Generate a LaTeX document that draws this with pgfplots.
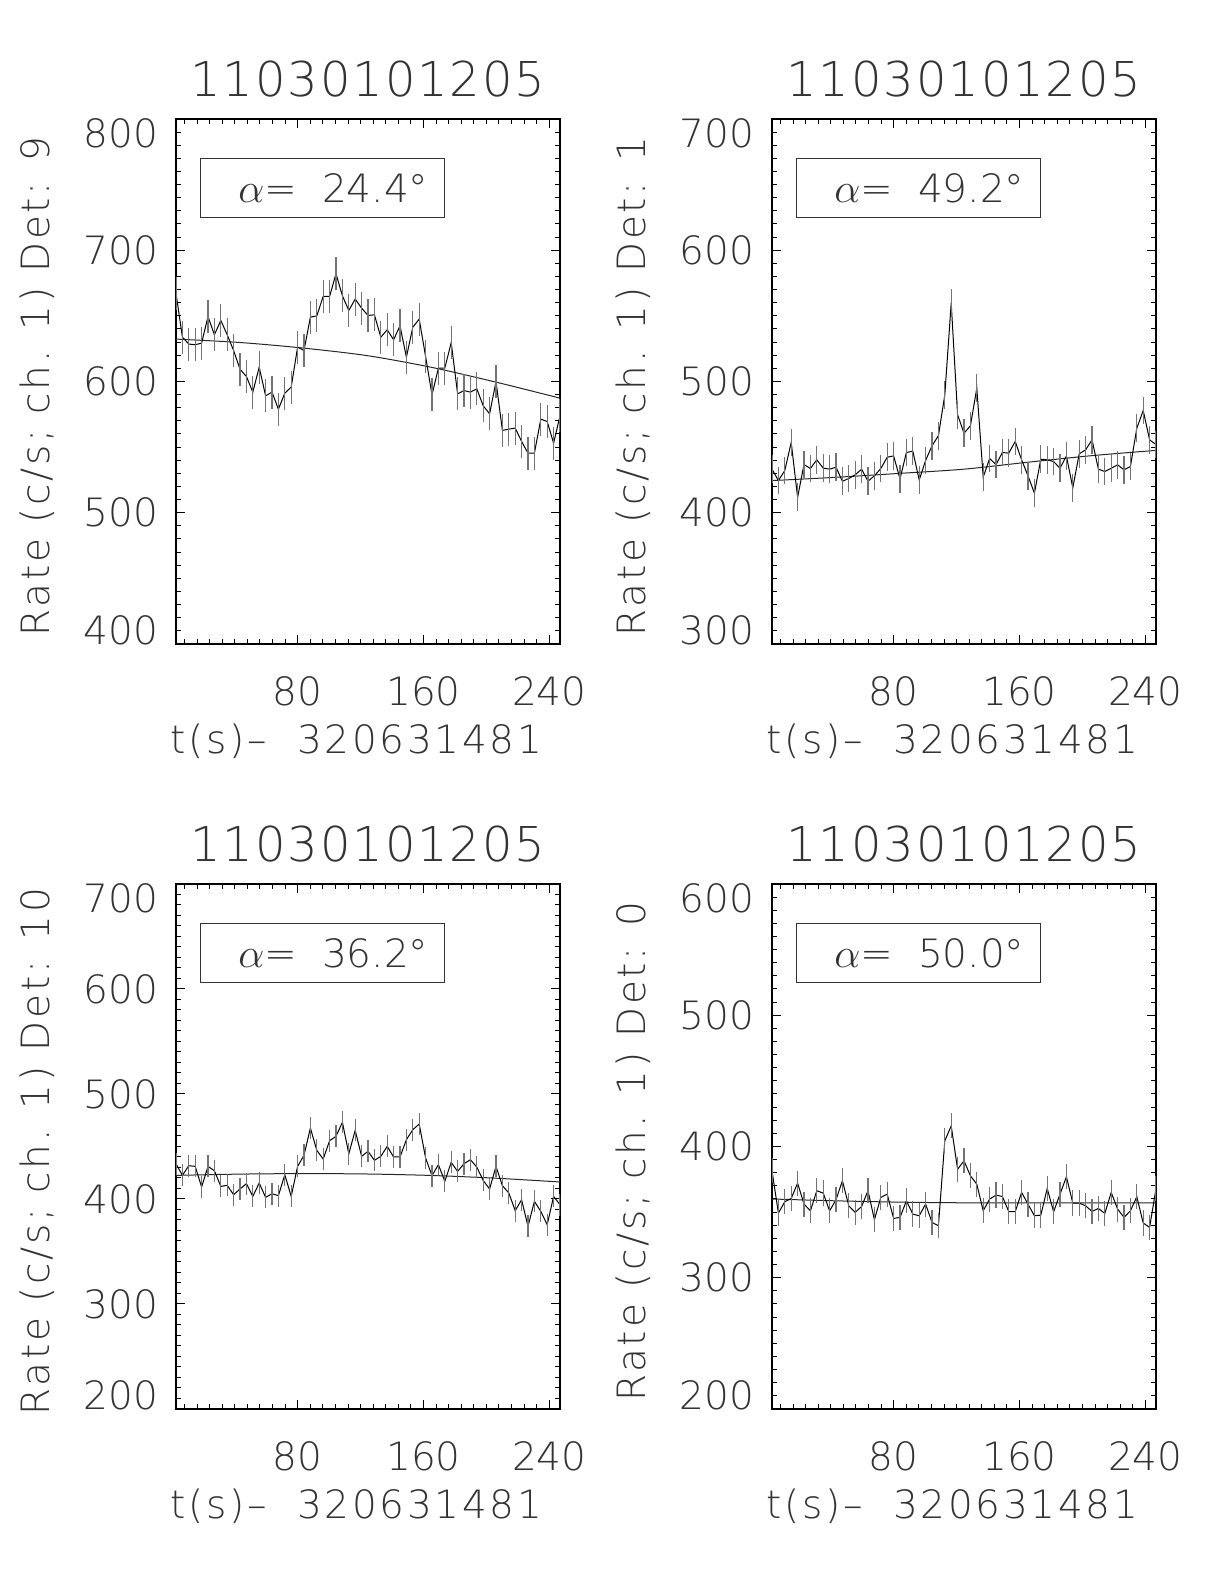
\documentclass[border=0pt]{standalone}
\usepackage{pgfplots}
\usepackage{pgfplotstable}
\pgfplotsset{compat=1.18}
\usepackage{fontspec}
\IfFontExistsTF{DejaVu Sans ExtraLight}{\setmainfont{DejaVu Sans ExtraLight}}{%
  \IfFontExistsTF{Fira Sans Light}{\setmainfont{Fira Sans Light}}{\setmainfont{DejaVu Sans}}}
\newcommand{\lab}{\fontsize{19.5}{24}\selectfont}
\newcommand{\labw}{\fontsize{19.5}{24}\selectfont\addfontfeatures{LetterSpace=7}}
\newcommand{\up}[1]{\raisebox{7pt}[\height][\depth]{#1}}
\newcommand{\dn}[1]{\raisebox{-7pt}[\height][\depth]{#1}}

\pgfplotstableread{
t d9 d1 d10 d0
2.60 667.3 433.2 433.6 381.5
6.67 633.8 424.5 422.5 349.3
10.74 628.5 432.2 431.7 357.9
14.81 628.0 453.5 431.1 360.4
18.88 629.2 411.8 411.4 372.1
22.95 649.5 436.7 431.1 356.1
27.02 635.6 433.7 426.9 351.0
31.09 646.5 440.3 412.0 366.3
35.16 635.6 434.0 413.0 364.5
39.23 623.6 433.2 404.1 351.0
43.30 609.4 434.7 409.5 359.4
47.37 603.8 424.0 414.6 373.9
51.44 591.9 426.1 402.5 354.8
55.51 610.9 428.9 415.2 349.8
59.58 589.1 433.2 401.6 354.3
63.65 591.9 424.0 405.0 366.3
67.72 578.9 428.1 403.2 344.2
71.79 591.1 433.7 423.1 361.2
75.86 595.7 442.3 402.5 363.7
79.93 626.2 443.3 431.1 345.2
84.00 623.6 425.8 441.6 346.0
88.07 649.0 445.9 467.6 358.6
92.14 650.0 446.9 446.3 348.5
96.21 664.8 425.0 438.1 347.2
100.28 664.8 439.8 455.5 356.1
104.35 682.1 451.0 459.7 342.2
108.42 665.3 458.6 473.0 339.6
112.49 654.1 489.8 443.1 404.3
116.56 662.8 559.7 465.4 415.7
120.63 655.9 474.6 440.6 382.7
124.70 650.3 460.6 445.4 389.1
128.77 650.8 466.2 436.8 377.7
132.84 633.8 494.9 440.6 371.3
136.91 639.4 427.1 450.1 351.0
140.98 631.8 441.3 440.0 359.9
145.05 642.4 436.7 440.0 363.0
149.12 618.5 445.9 456.5 361.9
153.19 641.4 445.4 466.0 350.3
157.26 647.5 454.3 471.4 350.3
161.33 619.0 440.3 439.0 365.0
165.40 589.8 428.1 422.2 356.1
169.47 610.2 414.9 432.7 347.2
173.54 610.2 440.8 416.8 347.7
177.61 629.7 440.3 434.9 368.0
181.68 590.6 439.0 426.3 350.3
185.75 593.1 433.9 433.6 363.7
189.82 591.9 443.3 437.4 376.9
193.89 594.4 419.0 430.4 356.9
197.96 581.5 444.9 417.7 356.9
202.03 575.4 447.9 409.5 354.8
206.10 600.0 455.5 431.1 350.5
210.17 562.7 433.2 412.7 352.8
214.24 563.7 431.4 405.7 349.0
218.31 564.5 433.9 388.9 365.0
222.38 554.3 436.5 399.3 352.3
226.45 545.4 432.7 373.9 346.0
230.52 545.4 435.2 397.8 351.0
234.59 571.3 464.4 388.2 361.7
238.66 569.5 477.9 375.5 341.7
242.73 553.0 455.5 402.5 338.4
246.80 573.9 452.0 394.6 368.0
}\rates

\pgfplotstableread{
t b9 b1 b10 b0
2.60 632.3 424.5 422.5 360.0
43.30 629.7 427.0 423.7 358.6
84.00 625.4 430.0 424.2 357.6
124.70 619.6 433.2 423.8 357.1
165.40 610.7 438.5 422.4 357.0
206.10 599.5 443.5 419.8 357.0
246.80 587.3 447.5 416.2 357.0
}\bkg

\pgfplotsset{
  idl/.style={
    scale only axis, width=192pt, height=262.5pt, anchor=south west,
    xmin=2.6, xmax=246.8,
    xtick={80,160,240}, xticklabels={80,160,240},
    minor xtick={8,16,...,240},
    tick align=inside,
    major tick length=4.6pt, minor tick length=2.3pt,
    every tick/.style={black, line width=0.5pt},
    axis line style={black, line width=0.6pt},
    tick label style={font=\lab, text=black!80},
    xticklabel style={anchor=center, inner sep=0pt, yshift=-23.5pt},
    yticklabel style={anchor=east, inner sep=0pt, xshift=-8.75pt},
    title style={at={(axis description cs:0.5,1)}, anchor=center, yshift=14pt,
      inner sep=0pt, font=\fontsize{24}{30}\selectfont\addfontfeatures{LetterSpace=4}, text=black!80},
    xlabel style={at={(axis description cs:0.47,0)}, anchor=center, yshift=-48.5pt,
      inner sep=0pt, font=\labw, text=black!80},
    ylabel style={at={(axis description cs:-0.362,0.49)}, anchor=center,
      inner sep=0pt, font=\labw, text=black!80},
    title={11030101205},
    xlabel={t(s)– \ 320631481},
  },
  bkgline/.style={black!85, line width=0.5pt, smooth, mark=none},
  dat/.style={black, line width=0.5pt, mark=none,
    error bars/.cd, y dir=both, y fixed=#1, error mark=none,
    error bar style={black!55, line width=0.6pt}},
}

\newcommand{\alphabox}[1]{%
  \draw[black!80, line width=0.5pt] (axis description cs:0.065,0.813) rectangle (axis description cs:0.698,0.924);
  \node[font=\lab, text=black!80, inner sep=0pt] at (axis description cs:0.41,0.868) {$\alpha$= \ #1°};
}

\begin{document}
\begin{tikzpicture}
\useasboundingbox (0,0) rectangle (612pt,792pt);

\begin{axis}[idl, at={(88pt,470pt)},
  ymin=400, ymax=800, ytick={400,500,600,700,800},
  minor ytick={400,410,...,800},
  yticklabels={\up{400},500,600,700,\dn{800}},
  ylabel={Rate (c/s; ch. 1) Det: 9}]
  \addplot[bkgline] table[x=t,y=b9]{\bkg};
  \addplot[dat=12.6] table[x=t,y=d9]{\rates};
  \alphabox{24.4}
\end{axis}

\begin{axis}[idl, at={(386pt,470pt)},
  ymin=300, ymax=700, ytick={300,400,500,600,700},
  minor ytick={300,310,...,700},
  yticklabels={\up{300},400,500,600,\dn{700}},
  ylabel={Rate (c/s; ch. 1) Det: 1}]
  \addplot[bkgline] table[x=t,y=b1]{\bkg};
  \addplot[dat=10.6] table[x=t,y=d1]{\rates};
  \alphabox{49.2}
\end{axis}

\begin{axis}[idl, at={(88pt,87.5pt)},
  ymin=200, ymax=700, ytick={200,300,400,500,600,700},
  minor ytick={200,210,...,700},
  yticklabels={\up{200},300,400,500,600,\dn{700}},
  ylabel={Rate (c/s; ch. 1) Det: 10}]
  \addplot[bkgline] table[x=t,y=b10]{\bkg};
  \addplot[dat=10.4] table[x=t,y=d10]{\rates};
  \alphabox{36.2}
\end{axis}

\begin{axis}[idl, at={(386pt,87.5pt)},
  ymin=200, ymax=600, ytick={200,300,400,500,600},
  minor ytick={200,210,...,600},
  yticklabels={\up{200},300,400,500,\dn{600}},
  ylabel={Rate (c/s; ch. 1) Det: 0}]
  \addplot[bkgline] table[x=t,y=b0]{\bkg};
  \addplot[dat=9.6] table[x=t,y=d0]{\rates};
  \alphabox{50.0}
\end{axis}

\end{tikzpicture}
\end{document}
